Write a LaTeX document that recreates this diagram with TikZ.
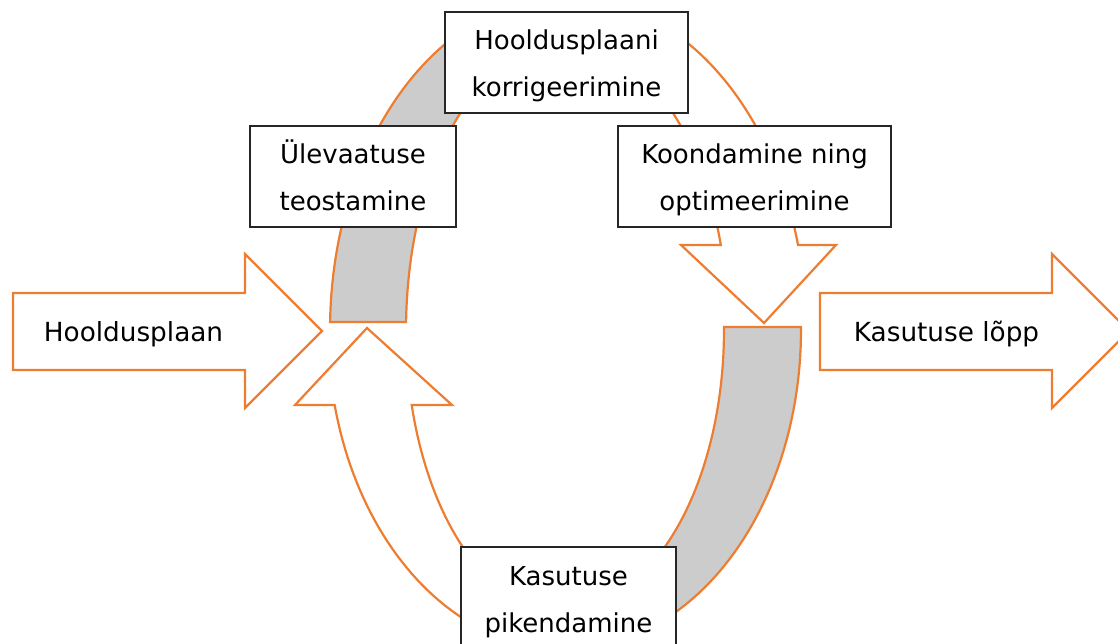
\documentclass[tikz,border=0pt]{standalone}
\usepackage{fontspec}
\setmainfont{DejaVu Sans}
\definecolor{orng}{HTML}{ED7D31}
\definecolor{bandgray}{HTML}{CCCCCC}
\newcommand\twoln[2]{\rule{0pt}{28pt}#1\\#2\rule[-6pt]{0pt}{6pt}}
\begin{document}
\begin{tikzpicture}[x=1pt,y=-1pt,
  band/.style={draw=orng, line width=2.2pt, line join=miter},
  box/.style={draw=black!85, line width=1.2pt, fill=white, inner sep=0pt, align=center,
    minimum height=101pt, font=\fontsize{26}{47}\selectfont},
  lbl/.style={font=\fontsize{26.3}{30}\selectfont, inner sep=0pt, anchor=base}]
\useasboundingbox (0,0) rectangle (1118,644);

% block arrows in and out
\draw[band, fill=white] (13,293) -- (245,293) -- (245,254) -- (322,331) -- (245,408) -- (245,370) -- (13,370) -- cycle;
\node[lbl] (hp) at (133.5,341) {Hooldusplaan};
\draw[band, fill=white] (820,293) -- (1052,293) -- (1052,254) -- (1129,331) -- (1052,408) -- (1052,370) -- (820,370) -- cycle;
\node[lbl] (kl) at (946.5,341) {Kasutuse lõpp};

% upper left gray band
\draw[band, fill=bandgray]
  plot[domain=181.38:250, samples=60] ({566+236*cos(\x)},{330+333*sin(\x)})
  -- plot[domain=250:181.59, samples=60] ({566+160*cos(\x)},{330+289*sin(\x)}) -- cycle;

% upper right white curved arrow
\draw[band, fill=white]
  plot[domain=290:345.21, samples=60] ({566+240*cos(\x)},{330+333*sin(\x)})
  -- (836,245) -- (764,323) -- (681,245)
  -- plot[domain=342.9:290, samples=60] ({566+162*cos(\x)},{330+289*sin(\x)}) -- cycle;

% lower right gray band
\draw[band, fill=bandgray]
  plot[domain=-0.54:110, samples=60] ({566+235*cos(\x)},{330+319*sin(\x)})
  -- plot[domain=110:-0.62, samples=60] ({566+158*cos(\x)},{330+278*sin(\x)}) -- cycle;

% lower left white curved arrow
\draw[band, fill=white]
  plot[domain=70:166.44, samples=60] ({566+238*cos(\x)},{330+320*sin(\x)})
  -- (295,405) -- (367,328) -- (452,405)
  -- plot[domain=164.69:70, samples=60] ({566+160*cos(\x)},{330+284*sin(\x)}) -- cycle;

% boxes
\node[box, minimum width=243pt] (hk) at (566.5,62.5) {\twoln{Hooldusplaani}{korrigeerimine}};
\node[box, minimum width=206pt] (ut) at (353,176.5) {\twoln{Ülevaatuse}{teostamine}};
\node[box, minimum width=273pt] (ko) at (754.5,176.5) {\twoln{Koondamine ning}{optimeerimine}};
\node[box, minimum width=215pt] (kp) at (568.5,597.5) {\twoln{Kasutuse}{pikendamine}};
\end{tikzpicture}
\end{document}
